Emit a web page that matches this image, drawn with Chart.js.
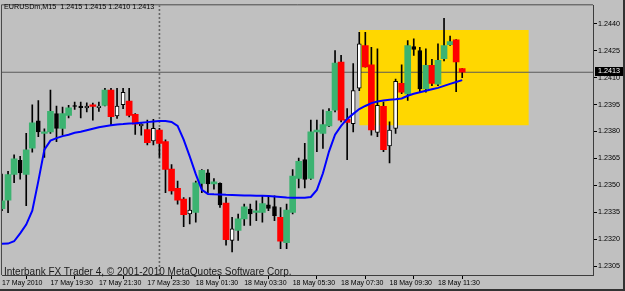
<!DOCTYPE html>
<html>
<head>
<meta charset="utf-8">
<title>EURUSDm,M15</title>
<script src="https://cdn.jsdelivr.net/npm/chart.js@4.4.0/dist/chart.umd.min.js"></script>
<style>
  html, body { margin: 0; padding: 0; background: #c0c0c0; overflow: hidden; }
  #wrap { position: relative; width: 625px; height: 291px; }
  #chart { display: block; }
  .label { position: absolute; font-family: "Liberation Sans", Arial, sans-serif; white-space: pre; color: #000; }
  #title { left: 4px; top: 3px; font-size: 7.2px; line-height: 8px; }
  #copyright { left: 4px; top: 266px; font-size: 10px; line-height: 12px; color: #1a1a1a; }
</style>
</head>
<body>
<div id="wrap">
  <canvas id="chart" width="625" height="291"></canvas>
  <div id="title" class="label"></div>
  <div id="copyright" class="label">Interbank FX Trader 4, © 2001-2010 MetaQuotes Software Corp.</div>
</div>
<script>
// DATA - M15 bars from 17 May 17:30 to 18 May 12:30
const symbol = "EURUSDm,M15";

const open = [
  1.23369, 1.23417, 1.23560, 1.23639, 1.23560, 1.23707, 1.23859, 1.23789, 1.23798, 1.23899,
  1.23817, 1.23890, 1.23940, 1.23942, 1.23931, 1.23949, 1.23932, 1.23945, 1.24031, 1.23887,
  1.23949, 1.23969, 1.23896, 1.23831, 1.23811, 1.23747, 1.23808, 1.23743, 1.23591, 1.23483,
  1.23423, 1.23340, 1.23349, 1.23511, 1.23569, 1.23508, 1.23511, 1.23401, 1.23193, 1.23248,
  1.23313, 1.23367, 1.23349, 1.23349, 1.23391, 1.23382, 1.23321, 1.23180, 1.23349, 1.23538,
  1.23643, 1.23538, 1.23798, 1.23789, 1.23831, 1.23918, 1.24187, 1.23868, 1.23844, 1.24041,
  1.24279, 1.24171, 1.23795, 1.23940, 1.23720, 1.23817, 1.24068, 1.24009, 1.24273, 1.24251,
  1.24037, 1.24169, 1.24064, 1.24206, 1.24284, 1.24310, 1.24150
];
const high = [
  1.23562, 1.23578, 1.23670, 1.23661, 1.23789, 1.23949, 1.23972, 1.23815, 1.24031, 1.23942,
  1.23936, 1.23945, 1.23964, 1.23964, 1.23960, 1.23958, 1.23964, 1.24040, 1.24040, 1.24040,
  1.24040, 1.24040, 1.23899, 1.23844, 1.23864, 1.23868, 1.23818, 1.23754, 1.23615, 1.23523,
  1.23431, 1.23431, 1.23523, 1.23588, 1.23588, 1.23538, 1.23514, 1.23431, 1.23321, 1.23340,
  1.23395, 1.23395, 1.23413, 1.23441, 1.23441, 1.23441, 1.23376, 1.23395, 1.23588, 1.23652,
  1.23734, 1.23863, 1.23864, 1.23920, 1.23927, 1.24251, 1.24224, 1.23927, 1.24178, 1.24352,
  1.24352, 1.24269, 1.24261, 1.23964, 1.23853, 1.24092, 1.24171, 1.24306, 1.24316, 1.24269,
  1.24261, 1.24202, 1.24288, 1.24431, 1.24331, 1.24312, 1.24150
];
const low = [
  1.23358, 1.23347, 1.23514, 1.23534, 1.23386, 1.23685, 1.23771, 1.23655, 1.23789, 1.23743,
  1.23780, 1.23876, 1.23923, 1.23876, 1.23909, 1.23863, 1.23912, 1.23942, 1.23835, 1.23872,
  1.23927, 1.23881, 1.23784, 1.23780, 1.23725, 1.23725, 1.23655, 1.23459, 1.23450, 1.23395,
  1.23270, 1.23285, 1.23294, 1.23459, 1.23459, 1.23478, 1.23376, 1.23166, 1.23129, 1.23193,
  1.23276, 1.23276, 1.23303, 1.23294, 1.23358, 1.23303, 1.23147, 1.23147, 1.23340, 1.23486,
  1.23486, 1.23533, 1.23688, 1.23705, 1.23826, 1.23909, 1.23853, 1.23643, 1.23798, 1.24028,
  1.24158, 1.23780, 1.23771, 1.23688, 1.23624, 1.23789, 1.24010, 1.23973, 1.24224, 1.24019,
  1.24019, 1.24055, 1.24055, 1.24193, 1.24279, 1.24022, 1.24100
];
const close = [
  1.23413, 1.23560, 1.23648, 1.23569, 1.23698, 1.23848, 1.23798, 1.23798, 1.23912, 1.23817,
  1.23899, 1.23931, 1.23939, 1.23932, 1.23942, 1.23940, 1.23942, 1.24031, 1.23883, 1.23942,
  1.24018, 1.23890, 1.23841, 1.23841, 1.23738, 1.23817, 1.23734, 1.23588, 1.23468, 1.23417,
  1.23336, 1.23362, 1.23514, 1.23584, 1.23508, 1.23519, 1.23391, 1.23197, 1.23257, 1.23313,
  1.23380, 1.23340, 1.23358, 1.23398, 1.23371, 1.23331, 1.23189, 1.23362, 1.23551, 1.23633,
  1.23533, 1.23798, 1.23807, 1.23839, 1.23912, 1.24181, 1.23863, 1.23850, 1.24028, 1.24288,
  1.24159, 1.23808, 1.23945, 1.23698, 1.23808, 1.24079, 1.24019, 1.24279, 1.24257, 1.24037,
  1.24169, 1.24068, 1.24196, 1.24279, 1.24301, 1.24187, 1.24130
];
// 1 = bar painted by the trend indicator (green/red), 0 = plain candle (white/black)
const signal = [
  1, 1, 1, 0, 1, 1, 0, 1, 1, 0,  1, 1, 0, 0, 0, 1, 0, 1, 1, 0,
  0, 1, 1, 0, 1, 0, 1, 1, 1, 1,  1, 0, 1, 1, 0, 1, 0, 1, 0, 1,
  1, 0, 1, 1, 0, 0, 1, 1, 1, 1,  0, 1, 1, 1, 1, 1, 1, 1, 0, 0,
  1, 1, 0, 1, 0, 0, 1, 1, 0, 0,  1, 1, 1, 1, 1, 1, 1
];
// moving average (blue)
const ma = [
  1.23174, 1.23175, 1.23188, 1.23232, 1.23281, 1.23358, 1.23523, 1.23699, 1.23749, 1.23763,
  1.23774, 1.23782, 1.23793, 1.23798, 1.23807, 1.23815, 1.23823, 1.23829, 1.23834, 1.23839,
  1.23841, 1.23844, 1.23846, 1.23849, 1.23852, 1.23855, 1.23858, 1.23858, 1.23853, 1.23831,
  1.23754, 1.23661, 1.23562, 1.23474, 1.23452, 1.23450, 1.23449, 1.23447, 1.23446, 1.23445,
  1.23443, 1.23443, 1.23442, 1.23441, 1.23440, 1.23438, 1.23435, 1.23432, 1.23431, 1.23431,
  1.23431, 1.23435, 1.23474, 1.23567, 1.23688, 1.23782, 1.23831, 1.23870, 1.23898, 1.23925,
  1.23942, 1.23958, 1.23967, 1.23972, 1.23977, 1.23980, 1.23984, 1.23999, 1.24010, 1.24019,
  1.24027, 1.24035, 1.24043, 1.24054, 1.24065, 1.24076, 1.24086
];

const xTickIdx = [0, 8, 16, 24, 32, 40, 48, 56, 64, 72];
const xTickLabels = [
  "17 May 2010", "17 May 19:30", "17 May 21:30", "17 May 23:30", "18 May 01:30",
  "18 May 03:30", "18 May 05:30", "18 May 07:30", "18 May 09:30", "18 May 11:30"
];
const yTicks = [1.2305, 1.2320, 1.2335, 1.2350, 1.2365, 1.2380, 1.2395, 1.2410, 1.2425, 1.2440];

// rectangle object and day separator
const boxFrom = 59, boxTo = 87;
const boxHigh = 1.24366, boxLow = 1.23835;
const daySeparator = 26;

// visible window
const viewMin = 0, viewMax = 97.6;
const priceMin = 1.2300, priceMax = 1.24503;

const GREEN = "#3cb371";
const RED = "#ff0000";
const FONT = "Liberation Sans";

const last = close.length - 1;
const idx = open.map((_, i) => i);
const isUp = i => close[i] >= open[i];
const bodyOf = i => ({ x: i, y: [Math.min(open[i], close[i]), Math.max(open[i], close[i])] });

document.getElementById("title").textContent =
  symbol + "  " + [open[last], high[last], low[last], close[last]].map(v => v.toFixed(4)).join(" ");

// frame lines + bid price box
const mtFrame = {
  id: "mtFrame",
  afterDraw(chart) {
    const { ctx, chartArea: a, scales: { y } } = chart;
    ctx.save();
    ctx.strokeStyle = "#4a4a4a";
    ctx.lineWidth = 1;
    ctx.beginPath();
    ctx.moveTo(a.left - 0.5, a.bottom);
    ctx.lineTo(a.left - 0.5, a.top - 0.5);
    ctx.lineTo(a.right, a.top - 0.5);
    ctx.stroke();

    // outer window edge
    ctx.fillStyle = "#333";
    ctx.fillRect(chart.width - 2, 0, 2, chart.height);
    ctx.fillRect(0, chart.height - 2, chart.width, 2);

    const py = y.getPixelForValue(close[last]);
    ctx.fillStyle = "#000";
    ctx.fillRect(y.left + 2, Math.round(py) - 5, 28, 9);
    ctx.fillStyle = "#fff";
    ctx.font = "7.2px '" + FONT + "'";
    ctx.textBaseline = "middle";
    ctx.fillText(close[last].toFixed(4), y.left + 5, Math.round(py) - 0.5);
    ctx.restore();
  }
};

const axisFont = { family: FONT, size: 7.2 };

new Chart(document.getElementById("chart"), {
  type: "bar",
  data: {
    datasets: [
      {
        type: "line",
        data: ma.map((v, i) => ({ x: i, y: v })),
        borderColor: "#0000ff",
        borderWidth: 2,
        pointRadius: 0,
        order: 0
      },
      {
        data: idx.filter(i => signal[i]).map(bodyOf),
        backgroundColor: c => (isUp(c.raw.x) ? GREEN : RED),
        borderWidth: 0,
        barThickness: 6,
        minBarLength: 1,
        grouped: false,
        order: 1
      },
      {
        data: idx.filter(i => !signal[i]).map(bodyOf),
        backgroundColor: c => (isUp(c.raw.x) ? "#ffffff" : "#000000"),
        borderColor: "#000",
        borderWidth: 1,
        borderSkipped: false,
        barThickness: 4,
        minBarLength: 1,
        grouped: false,
        order: 2
      },
      {
        data: idx.map(i => ({ x: i, y: [low[i], high[i]] })),
        backgroundColor: "#000",
        barThickness: 1,
        grouped: false,
        order: 3
      },
      {
        type: "line",
        data: [{ x: viewMin, y: close[last] }, { x: viewMax, y: close[last] }],
        borderColor: "#5a5a5a",
        borderWidth: 1.2,
        pointRadius: 0,
        order: 4
      },
      {
        type: "line",
        data: [{ x: daySeparator, y: priceMin }, { x: daySeparator, y: priceMax }],
        borderColor: "#666666",
        borderWidth: 1.6,
        borderDash: [2, 2],
        pointRadius: 0,
        order: 5
      },
      {
        type: "line",
        data: [{ x: boxFrom, y: boxHigh }, { x: boxTo, y: boxHigh }],
        fill: { value: boxLow },
        backgroundColor: "#ffd700",
        borderWidth: 0,
        pointRadius: 0,
        order: 6
      }
    ]
  },
  options: {
    responsive: false,
    animation: false,
    events: [],
    layout: { padding: { left: 2, top: 2, right: 0, bottom: 0 } },
    plugins: { legend: { display: false }, tooltip: { enabled: false } },
    scales: {
      x: {
        type: "linear",
        min: viewMin,
        max: viewMax,
        offset: false,
        grid: { drawOnChartArea: false, tickLength: 4, color: "#000" },
        border: { color: "#3c3c3c", width: 1 },
        afterBuildTicks: s => { s.ticks = xTickIdx.map(v => ({ value: v })); },
        afterFit: s => { s.height = 16; },
        ticks: {
          autoSkip: false,
          maxRotation: 0,
          align: "start",
          padding: 0,
          color: "#000",
          font: { family: FONT, size: 7 },
          callback: (v, k) => xTickLabels[k]
        }
      },
      y: {
        position: "right",
        min: priceMin,
        max: priceMax,
        grid: { drawOnChartArea: false, tickLength: 4, color: "#000" },
        border: { color: "#3c3c3c", width: 1 },
        afterBuildTicks: s => { s.ticks = yTicks.map(v => ({ value: v })); },
        afterFit: s => { s.width = 32; },
        ticks: {
          padding: 1,
          color: "#000",
          font: axisFont,
          callback: v => Number(v).toFixed(4)
        }
      }
    }
  },
  plugins: [mtFrame]
});
</script>
</body>
</html>
